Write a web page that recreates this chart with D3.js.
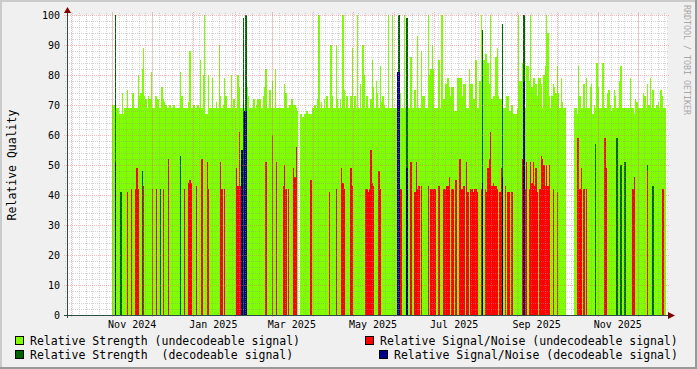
<!DOCTYPE html>
<html>
<head>
<meta charset="utf-8">
<script src="https://cdn.jsdelivr.net/npm/d3@7"></script>
<style>
  html, body { margin: 0; padding: 0; background: #f0f0f0; }
  svg { display: block; }
  text { font-family: "DejaVu Sans Mono", monospace; }
</style>
</head>
<body>
<div id="chart"></div>
<script>
// day 0 of every series is this date, one value per day
const dataStart = "2024-11-01";
const rangeStart = "2024-09-28";
const rangeEnd = "2025-12-23";

// Relative Strength (undecodeable signal), daily, null = no data
const strengthUndecodeable = [
  70,70,70,69,69,67,67,74,67,69,
  69,75,69,69,69,74,69,69,69,80,
  73,74,82,89,73,72,69,73,72,81,
  69,69,73,73,72,69,69,76,72,71,
  70,69,69,70,69,69,70,69,69,69,
  69,81,73,69,69,69,69,71,88,69,
  69,70,69,69,70,69,85,69,80,100,
  67,67,80,69,69,79,69,69,71,69,
  90,73,69,70,79,73,69,69,69,80,
  69,72,69,69,80,76,69,69,69,69,
  69,76,73,69,69,69,72,69,70,72,
  72,72,69,73,76,82,69,69,75,69,
  78,69,82,69,69,69,69,69,69,77,
  74,69,69,70,72,72,70,70,69,68,
  null,67,67,66,67,67,68,67,67,67,
  69,69,70,69,72,100,69,71,69,72,
  69,73,69,69,90,73,69,69,90,72,
  69,72,69,100,75,69,73,69,69,73,
  89,69,73,69,100,69,77,69,90,80,
  69,73,69,69,72,85,76,69,78,74,
  69,83,71,73,70,69,69,100,69,69,
  100,69,69,69,69,69,74,69,69,100,
  69,69,69,69,86,69,69,75,69,93,
  69,69,88,73,73,69,69,100,80,82,
  90,82,69,69,69,85,69,100,100,72,
  77,77,79,76,73,76,76,68,68,79,
  79,79,79,73,77,77,69,69,82,77,
  77,72,72,85,69,69,78,100,85,85,
  87,87,84,77,100,72,73,73,86,89,
  73,72,72,72,69,69,73,73,68,68,
  70,67,67,67,69,100,78,78,84,69,
  69,83,83,78,100,76,79,79,77,73,
  79,79,77,69,80,83,100,94,73,69,
  73,77,76,74,83,74,69,79,71,69,
  69,null,null,null,null,null,null,69,69,67,
  83,73,69,69,77,69,79,69,69,76,
  77,67,70,69,84,76,69,69,84,84,
  69,69,74,75,70,68,69,75,73,69,
  69,78,83,69,69,69,69,69,69,79,
  69,69,67,72,71,69,69,69,69,74,
  73,69,77,70,79,69,75,69,69,70,
  71,69,75,73,69,69
];

// Relative Strength (decodeable signal): [day, value]
const strengthDecodeable = [
  [2,100],[6,41],[22,48],[36,42],[51,53],[98,99],[100,100],[215,100],
  [221,99],[278,95],[293,97],[309,100],[363,57],[379,59],[382,50],
  [385,51],[402,50],[406,43]
];

// Relative Signal/Noise (undecodeable signal): [day, value]
const snrUndecodeable = [
  [11,41],[14,42],[17,42],[18,49],[19,42],[23,43],[30,42],[33,42],[38,42],[42,52],
  [54,42],[57,44],[58,45],[59,44],[63,43],[67,52],[71,51],[72,42],[81,51],[82,42],
  [84,42],[93,49],[94,43],[95,61],[96,43],
  [115,51],[120,60],[123,51],[128,43],[129,50],[130,42],[132,42],[136,49],[137,46],[138,56],
  [149,45],[163,41],[168,42],[172,49],[173,44],[174,42],[179,49],[180,43],[190,42],[191,42],
  [192,41],[193,42],[194,55],[195,44],[196,43],[200,48],[201,42],
  [216,42],[217,42],[224,51],[227,41],[228,51],[229,42],[230,43],[232,43],[237,43],[239,42],
  [240,42],[241,42],[242,42],[245,43],[249,42],[250,42],[251,43],[252,43],[253,46],[255,42],
  [256,42],[258,45],[261,52],[262,42],[263,42],[264,43],[266,51],[267,41],[269,42],[270,42],
  [271,41],[272,42],[273,42],[274,41],[277,42],[280,42],[281,41],[282,49],[283,52],[284,61],
  [285,43],[286,44],[287,43],[288,43],[289,42],[291,41],[292,49],[295,43],[297,41],[298,41],
  [300,41],
  [308,52],[310,42],[311,51],[313,42],[314,51],[315,44],[316,51],[317,43],[318,49],[319,41],
  [321,42],[322,53],[323,52],[324,50],[325,43],[326,50],[327,43],[328,50],[331,42],[334,41],
  [349,59],[350,59],[351,42],[352,49],[354,42],[356,42],[370,59],[371,49],[391,42],[392,46],
  [402,48],[413,42],[414,42]
];

// Relative Signal/Noise (decodeable signal): [day, value]
const snrDecodeable = [
  [2,51],[97,55],[99,68],[100,68],[214,81],[215,81],[221,49],[278,44],[293,46],[309,78]
];

const yTicks = [0, 10, 20, 30, 40, 50, 60, 70, 80, 90, 100];
const yTitle = "Relative Quality";
const legendItems = [
  {label: "Relative Strength (undecodeable signal)", color: "#80ff00"},
  {label: "Relative Strength  (decodeable signal)", color: "#006400"},
  {label: "Relative Signal/Noise (undecodeable signal)", color: "#ff0000"},
  {label: "Relative Signal/Noise (decodeable signal)", color: "#00008b"}
];
const watermark = "RRDTOOL / TOBI OETIKER";

// Canvas setup
const width = 697, height = 369;
const plot = {left: 67, top: 15, width: 600, height: 300};
const bottom = plot.top + plot.height;
const right = plot.left + plot.width;

const svg = d3.select("#chart")
  .append("svg")
  .attr("width", width)
  .attr("height", height);

// background and shaded frame
svg.append("rect").attr("width", width).attr("height", height).attr("fill", "#f0f0f0");
svg.append("rect").attr("x", 0).attr("y", 0).attr("width", width).attr("height", 2).attr("fill", "#cbcbcb");
svg.append("rect").attr("x", 0).attr("y", 0).attr("width", 2).attr("height", height).attr("fill", "#cbcbcb");
svg.append("rect").attr("x", 0).attr("y", height - 2).attr("width", width).attr("height", 2).attr("fill", "#999999");
svg.append("rect").attr("x", width - 2).attr("y", 0).attr("width", 2).attr("height", height).attr("fill", "#999999");

svg.append("rect")
  .attr("x", plot.left).attr("y", plot.top)
  .attr("width", plot.width).attr("height", plot.height)
  .attr("fill", "#ffffff");

// Scales
const parse = d3.utcParse("%Y-%m-%d");
const day0 = parse(dataStart);
const x = d3.scaleUtc()
  .domain([parse(rangeStart), parse(rangeEnd)])
  .range([plot.left, right]);
const y = d3.scaleLinear()
  .domain([0, 100])
  .range([bottom, plot.top]);
const dayDate = i => d3.utcDay.offset(day0, i);

// Bars, one per day
function drawBars(series, color) {
  svg.append("g")
    .attr("shape-rendering", "crispEdges")
    .selectAll("rect")
    .data(series)
    .join("rect")
    .attr("x", d => Math.round(x(dayDate(d[0]))))
    .attr("width", d => Math.round(x(dayDate(d[0] + 1))) - Math.round(x(dayDate(d[0]))))
    .attr("y", d => Math.round(y(d[1])))
    .attr("height", d => y(0) - Math.round(y(d[1])))
    .attr("fill", color);
}

drawBars(strengthUndecodeable.map((v, i) => [i, v]).filter(d => d[1] != null), legendItems[0].color);
drawBars(strengthDecodeable, legendItems[1].color);
drawBars(snrUndecodeable, legendItems[2].color);
drawBars(snrDecodeable, legendItems[3].color);

// Grid on top of the data
const gridColor = "rgba(150,150,150,0.4)";
const mgridColor = "rgba(250,100,100,0.45)";
const grid = svg.append("g").attr("shape-rendering", "crispEdges");

d3.range(0, 101, 2).forEach(v => {
  const major = v % 10 === 0;
  const yy = Math.round(y(v)) + 0.5;
  grid.append("line")
    .attr("x1", plot.left - (major ? 3 : 2)).attr("x2", right + (major ? 3 : 2))
    .attr("y1", yy).attr("y2", yy)
    .attr("stroke", major ? mgridColor : gridColor)
    .attr("stroke-dasharray", "1,1");
});

const minorDays = d3.utcDay.range(parse("2024-09-27"), parse(rangeEnd), 5)
  .filter(d => x(d) >= plot.left);
minorDays.forEach(d => {
  const xx = Math.round(x(d)) + 0.5;
  grid.append("line")
    .attr("x1", xx).attr("x2", xx)
    .attr("y1", plot.top - 2).attr("y2", bottom + 2)
    .attr("stroke", gridColor)
    .attr("stroke-dasharray", "1,1");
});

const months = d3.utcMonth.range(parse(rangeStart), parse(rangeEnd));
months.forEach(d => {
  const xx = Math.round(x(d)) + 0.5;
  grid.append("line")
    .attr("x1", xx).attr("x2", xx)
    .attr("y1", plot.top - 3).attr("y2", bottom + 3)
    .attr("stroke", mgridColor)
    .attr("stroke-dasharray", "1,1");
});

// Axes
const axisColor = "#2c4d43";
svg.append("line")
  .attr("x1", plot.left - 3).attr("x2", right + 4)
  .attr("y1", bottom + 0.5).attr("y2", bottom + 0.5)
  .attr("stroke", axisColor);
svg.append("line")
  .attr("x1", plot.left + 0.5).attr("x2", plot.left + 0.5)
  .attr("y1", bottom + 3).attr("y2", plot.top - 4)
  .attr("stroke", axisColor);

// arrows
svg.append("path")
  .attr("d", `M${plot.left - 3},${plot.top - 2}L${plot.left + 0.5},${plot.top - 8}L${plot.left + 4},${plot.top - 2}Z`)
  .attr("fill", "#7f0000");
svg.append("path")
  .attr("d", `M${right + 1},${bottom - 3}L${right + 8},${bottom + 0.5}L${right + 1},${bottom + 4}Z`)
  .attr("fill", "#7f0000");

// Y tick labels
svg.append("g").selectAll("text")
  .data(yTicks)
  .join("text")
  .attr("x", 60)
  .attr("y", d => y(d))
  .attr("dy", "0.35em")
  .attr("text-anchor", "end")
  .attr("font-size", "10px")
  .attr("fill", "#000")
  .text(d => d);

// X labels, every second month, placed mid-month
const labelMonths = d3.utcMonth.range(parse("2024-11-01"), parse(rangeEnd), 2);
svg.append("g").selectAll("text")
  .data(labelMonths)
  .join("text")
  .attr("x", d => x(d3.utcDay.offset(d, 15)))
  .attr("y", 328)
  .attr("text-anchor", "middle")
  .attr("font-size", "10px")
  .attr("fill", "#000")
  .text(d3.utcFormat("%b %Y"));

// Y title
svg.append("text")
  .attr("transform", `translate(16, ${plot.top + plot.height / 2}) rotate(-90)`)
  .attr("text-anchor", "middle")
  .attr("font-size", "11.5px")
  .attr("fill", "#000")
  .text(yTitle);

// Watermark
svg.append("text")
  .attr("transform", "translate(684, 5) rotate(90)")
  .attr("font-size", "8.3px")
  .attr("fill", "#a8a8a8")
  .text(watermark);

// Legend
const legendPos = [
  {bx: 15, tx: 30, y: 341},
  {bx: 15, tx: 30, y: 355},
  {bx: 365, tx: 380, y: 341},
  {bx: 379, tx: 394, y: 355}
];
legendItems.forEach((item, i) => {
  const p = legendPos[i];
  svg.append("rect")
    .attr("x", p.bx + 0.5).attr("y", p.y - 4.5)
    .attr("width", 8).attr("height", 8)
    .attr("fill", item.color)
    .attr("stroke", "#000");
  svg.append("text")
    .attr("x", p.tx).attr("y", p.y)
    .attr("dy", "0.35em")
    .attr("font-size", "11.5px")
    .attr("fill", "#000")
    .attr("xml:space", "preserve")
    .style("white-space", "pre")
    .text(item.label);
});
</script>
</body>
</html>
